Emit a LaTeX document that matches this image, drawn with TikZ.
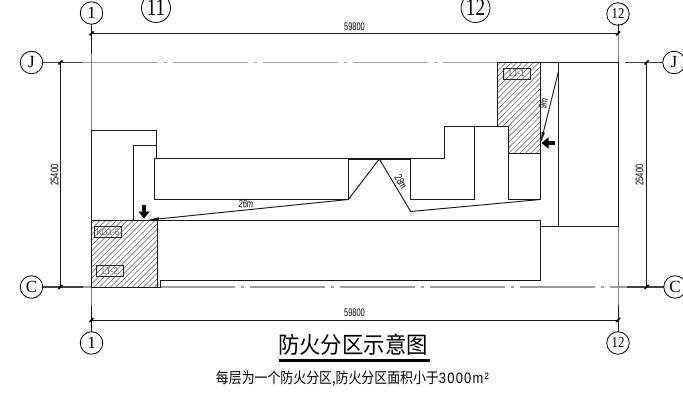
\documentclass[tikz,border=0pt]{standalone}
\usepackage{fontspec}
\setmainfont{Liberation Sans}
\newfontfamily\cjk{Noto Sans CJK SC}
\usetikzlibrary{arrows.meta}
\tikzset{
  wall/.style={draw=black!90,line width=0.95pt},
  axisgrey/.style={draw=black!38,line width=1.2pt,dash pattern=on 75pt off 6pt on 3pt off 6pt},
  axisv/.style={draw=black!50,line width=1pt},
  axisdark/.style={draw=black!75,line width=1.2pt},
  dimline/.style={draw=black!90,line width=0.95pt},
  tick/.style={draw=black,line width=1.5pt},
  bubble/.style={circle,draw=black,line width=0.8pt,inner sep=0pt,minimum size=22.5pt},
  bigbubble/.style={circle,draw=black,line width=0.8pt,inner sep=0pt,minimum size=29pt},
  axislabel/.style={font=\fontsize{17}{17}\selectfont\fontspec{Liberation Serif}},
  axislabeltwo/.style={font=\fontsize{15}{15}\selectfont\fontspec{Liberation Serif},xscale=.85},
  biglabel/.style={font=\fontsize{24}{24}\selectfont\fontspec{Liberation Serif},xscale=.8},
  dimlabel/.style={font=\fontsize{11}{11}\selectfont,inner sep=0pt,xscale=.68},
  tag/.style={draw=black!85,line width=0.7pt,inner sep=0pt,minimum width=27pt,minimum height=10.8pt},
  tagtext/.style={inner sep=0pt,font=\fontsize{9.5}{10}\selectfont,text=black!60,xscale=.85},
  hatchline/.style={draw=black!62,line width=0.55pt},
  fatarrow/.style={-{Triangle[length=7pt,width=11pt]},line width=3.4pt,draw=black},
  thinhead/.style={-{Triangle[length=11pt,width=3pt]},draw=black!90,line width=0.95pt},
}
\begin{document}
\begin{tikzpicture}[x=1pt,y=-1pt]
\useasboundingbox (0,0) rectangle (683,393);
% hatch
\begin{scope}
\clip (91.5,220) rectangle (157.5,287);
\foreach \k in {-80,-74.5,...,80} {\draw[hatchline] (91.5+\k,287) -- (91.5+\k+70,217);}
\end{scope}
\begin{scope}
\clip (497,62.5) -- (540.7,62.5) -- (540.7,153.5) -- (508,153.5) -- (508,126) -- (497,126) -- cycle;
\foreach \k in {-100,-94.5,...,60} {\draw[hatchline] (497+\k,155) -- (497+\k+97,58);}
\end{scope}
% axes
\coordinate (J1) at (43,62.5); \coordinate (J2) at (663,62.5);
\coordinate (C1) at (43,287); \coordinate (C2) at (664,287);
\draw[axisgrey] (83,62.5) -- (497,62.5);
\draw[axisdark] (J1) -- (83,62.5);
\draw[axisdark] (625,62.5) -- (J2);
\draw[axisgrey] (160,287) -- (618,287);
\draw[axisgrey,dash pattern=] (83,287) -- (91.5,287);
\draw[axisgrey,dash pattern=] (618,287) -- (627,287);
\draw[axisdark] (C1) -- (83,287);
\draw[axisdark] (627,287) -- (C2);
\draw[axisv] (91.5,24) -- (91.5,332);
\draw[axisv] (618,24) -- (618,332);
\draw[wall] (91.5,24) -- (91.5,54);
\draw[wall] (91.5,305) -- (91.5,332);
\draw[wall] (618,24) -- (618,33);
\draw[wall] (618,305) -- (618,332);
% bubbles
\node[bubble,axislabel] (t1) at (91.5,13) {1};
\node[bigbubble] (t11) at (156,8) {}; \node[biglabel] (t11t) at (t11) {11};
\node[bigbubble] (t12) at (475.5,8) {}; \node[biglabel] (t12t) at (t12) {12};
\node[bubble] (t12b) at (618,14) {}; \node[axislabeltwo] (t12bt) at (t12b) {12};
\node[bubble,axislabel] (b1) at (91.5,343) {1};
\node[bubble] (b12) at (618,343) {}; \node[axislabeltwo] (b12t) at (b12) {12};
\node[bubble,axislabel] (jl) at (31.5,62.5) {J};
\node[bubble,axislabel] (jr) at (674,62.5) {J};
\node[bubble,axislabel] (cl) at (31.5,287) {C};
\node[bubble,axislabel] (cr) at (675,287) {C};
% dimensions
\draw[dimline] (91,33.5) -- (618,33.5);
\draw[dimline] (91,320) -- (618,320);
\draw[dimline] (60.5,62.5) -- (60.5,287);
\draw[dimline] (646.5,62.5) -- (646.5,287);
\foreach \x/\y in {91.5/33.5,618/33.5,91.5/320,618/320,60.5/62.5,60.5/287,646.5/62.5,646.5/287}
  \draw[tick] (\x-2,\y+2) -- (\x+2,\y-2);
\node[dimlabel] (d1) at (354.5,27) {59800};
\node[dimlabel] (d2) at (354.5,313) {59800};
\node[rotate=90,dimlabel] (d3) at (54.5,175) {25400};
\node[rotate=90,dimlabel] (d4) at (639.5,175) {25400};
% building
\draw[wall] (91.5,287) -- (91.5,130) -- (156.5,130) -- (156.5,158.5);
\draw[wall] (133.5,220) -- (133.5,145.5) -- (156.5,145.5);
\draw[wall] (154.7,158.5) -- (444,158.5) -- (444,126) -- (497,126) -- (497,62.5) -- (618,62.5);
\draw[wall] (154.7,158.5) -- (154.7,199.5) -- (348.3,199.5);
\draw[wall] (348.3,159) -- (348.3,199.5);
\draw[wall] (410.7,159) -- (410.7,199.5) -- (474.7,199.5) -- (474.7,126);
\draw[wall,line width=1.5pt] (348.3,159) -- (410.7,159);
\draw[thinhead] (348.3,199.5) -- (148,220);
\draw[wall] (348.3,199.5) -- (379.3,159) -- (410.7,211.5) -- (540.7,199.5);
\draw[wall] (497,126) -- (508,126) -- (508,199.5) -- (540.7,199.5);
\draw[wall] (508,153.5) -- (540.7,153.5);
\draw[wall] (540.7,62.5) -- (540.7,199.5);
\draw[wall] (558.3,62.5) -- (558.3,226);
\draw[thinhead] (558.3,72) -- (540.7,143);
\draw[wall] (618,62.5) -- (618,226) -- (540.7,226);
\draw[wall] (91.5,220) -- (157.5,220) -- (157.5,287) -- (91.5,287) -- cycle;
\draw[wall] (157.5,220.7) -- (540.7,220.7) -- (540.7,280.7) -- (160,280.7) -- (160,287) -- (157.5,287);
% arrows
\coordinate (a1s) at (144,204.5); \coordinate (a1e) at (144,218.5);
\coordinate (a2s) at (555,143); \coordinate (a2e) at (541.5,143);
\draw[fatarrow] (a1s) -- (a1e);
\draw[fatarrow] (a2s) -- (a2e);
% tags
\node[tag] (tg1) at (108,232) {}; \node[tagtext] (tg1t) at (tg1) {KD1-6};
\node[tag] (tg2) at (110,271) {}; \node[tagtext] (tg2t) at (tg2) {LT-2};
\node[tag] (tg3) at (517,73.5) {}; \node[tagtext] (tg3t) at (tg3) {LT-1};
% distance labels
\node[rotate=-5.8,dimlabel] (m26) at (246,204) {26m};
\node[rotate=-60,dimlabel] (m28) at (401,182) {28m};
\node[rotate=76,dimlabel] (m9) at (543.5,104) {9m};
% title
\node[inner sep=0pt,xscale=.93,font=\fontsize{23}{24}\selectfont\cjk] (title) at (353,345) {防火分区示意图};
\draw[draw=black,line width=3pt] (279,360.5) -- (430,360.5);
\node[inner sep=0pt,xscale=.86,font=\fontsize{15}{16}\selectfont\cjk] (sub) at (352.5,378.5) {每层为一个防火分区,防火分区面积小于{\fontspec[LetterSpace=10]{Liberation Sans}3000m²}};
\end{tikzpicture}
\end{document}
